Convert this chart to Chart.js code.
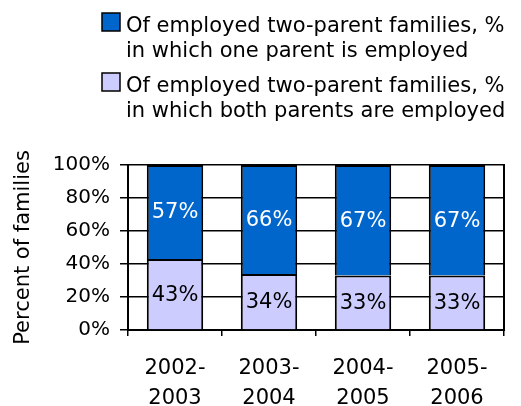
<!DOCTYPE html>
<html>
<head>
<meta charset="utf-8">
<script src="https://cdn.jsdelivr.net/npm/chart.js@4.4.1/dist/chart.umd.min.js"></script>
<style>
  html, body { margin: 0; padding: 0; background: #fff; }
  #wrap { width: 521px; height: 406px; }
</style>
</head>
<body>
<div id="wrap"><canvas id="famChart" width="521" height="406"></canvas></div>
<script>
const periods = [["2002-", "2003"], ["2003-", "2004"], ["2004-", "2005"], ["2005-", "2006"]];
const oneEmployed = [57, 66, 67, 67];
const bothEmployed = [43, 34, 33, 33];
const yTickValues = [0, 20, 40, 60, 80, 100];

const legendItems = [
  { lines: ["Of employed two-parent families, %", "in which one parent is employed"], color: "#0066CC" },
  { lines: ["Of employed two-parent families, %", "in which both parents are employed"], color: "#CCCCFF" }
];

const FONT = "'DejaVu Sans', sans-serif";

// value text in the middle of each bar segment
const barLabels = {
  id: "barLabels",
  afterDatasetsDraw(chart) {
    const ctx = chart.ctx;
    ctx.save();
    ctx.font = "21px " + FONT;
    ctx.textAlign = "center";
    ctx.textBaseline = "middle";
    chart.data.datasets.forEach((ds, i) => {
      const meta = chart.getDatasetMeta(i);
      meta.data.forEach((bar, j) => {
        ctx.fillStyle = ds.labelColor;
        ctx.fillText(ds.data[j] + "%", bar.x, (bar.y + bar.base) / 2 + 1);
      });
    });
    ctx.restore();
  }
};

// two-line legend above the plot
const boxLegend = {
  id: "boxLegend",
  afterDraw(chart) {
    const ctx = chart.ctx;
    ctx.save();
    ctx.font = "21px " + FONT;
    ctx.textBaseline = "alphabetic";
    ctx.textAlign = "left";
    let y = 32;
    legendItems.forEach(item => {
      ctx.fillStyle = item.color;
      ctx.fillRect(102, y - 19, 18, 18);
      ctx.strokeStyle = "#000";
      ctx.lineWidth = 1.5;
      ctx.strokeRect(102, y - 19, 18, 18);
      ctx.fillStyle = "#000";
      item.lines.forEach((line, k) => {
        ctx.fillText(line, 126, y + k * 25);
      });
      y += 60;
    });
    ctx.restore();
  }
};

const ctx = document.getElementById("famChart").getContext("2d");
new Chart(ctx, {
  type: "bar",
  data: {
    labels: periods,
    datasets: [
      {
        label: "both",
        data: bothEmployed,
        backgroundColor: "#CCCCFF",
        borderColor: "#000",
        borderWidth: 2,
        labelColor: "#000"
      },
      {
        label: "one",
        data: oneEmployed,
        backgroundColor: "#0066CC",
        borderColor: "#000",
        borderWidth: 2,
        labelColor: "#fff"
      }
    ]
  },
  options: {
    responsive: false,
    animation: false,
    devicePixelRatio: 1,
    layout: { padding: { top: 165, right: 17, left: 0, bottom: 0 } },
    datasets: { bar: { barPercentage: 0.6, categoryPercentage: 1 } },
    plugins: {
      legend: { display: false },
      tooltip: { enabled: false }
    },
    scales: {
      x: {
        stacked: true,
        grid: { drawOnChartArea: false, drawTicks: true, tickLength: 6, color: "#000", lineWidth: 1.5 },
        border: { color: "#000", width: 2 },
        ticks: { color: "#000", font: { family: FONT, size: 21, lineHeight: 1.4 }, padding: 18, maxRotation: 0 },
        afterFit(scale) { scale.height = 76; }
      },
      y: {
        stacked: true,
        min: 0,
        max: 100,
        afterBuildTicks(scale) { scale.ticks = yTickValues.map(v => ({ value: v })); },
        grid: { color: "#000", lineWidth: 1.5, tickLength: 8 },
        border: { color: "#000", width: 2 },
        ticks: { color: "#000", font: { family: FONT, size: 20 }, padding: 10, callback: v => v + "%" },
        title: { display: true, text: "Percent of families", color: "#000", font: { family: FONT, size: 21 }, padding: { top: 11, bottom: 0 } },
        afterFit(scale) { scale.width = 128; }
      },
      y2: {
        position: "right",
        min: 0,
        max: 100,
        grid: { display: false },
        border: { color: "#000", width: 2 },
        ticks: { display: false },
        afterFit(scale) { scale.width = 0; }
      }
    }
  },
  plugins: [barLabels, boxLegend]
});
</script>
</body>
</html>
